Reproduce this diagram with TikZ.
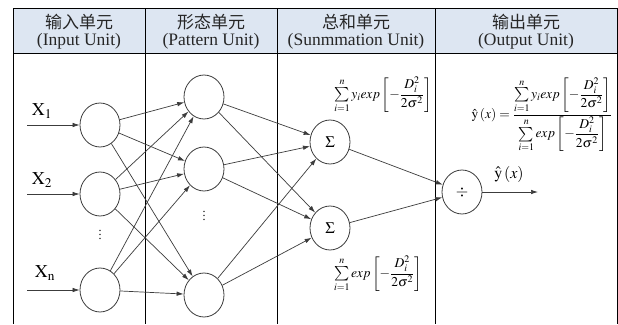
\documentclass[tikz,border=0pt]{standalone}
\usepackage{mathptmx}
\usepackage{exscale}
\usepackage{fontspec}
\setmainfont{Liberation Serif}
\newfontfamily\cjk{Noto Sans CJK SC}
\usetikzlibrary{arrows.meta,shapes.geometric}
\definecolor{hdrblue}{RGB}{221,230,242}
\definecolor{lnc}{RGB}{60,60,60}
\newcommand{\gfrac}{\displaystyle\frac{D_i^2}{2\sigma^2}}
\begin{document}
\begin{tikzpicture}[x=1pt,y=-1pt,
  neuron/.style={draw=lnc, line width=0.8pt, ellipse, minimum width=40pt, minimum height=44pt, inner sep=0pt, font=\fontsize{16}{16}\selectfont},
  conn/.style={draw=lnc, line width=0.7pt, -{Latex[length=7pt,width=4.5pt]}},
  tline/.style={draw=black, line width=1pt},
  cnhead/.style={font=\fontsize{17}{17}\cjk, text=black!85, inner sep=0pt},
  enhead/.style={font=\fontsize{17.5}{18}\selectfont, text=black!85, inner sep=0pt},
  xlab/.style={font=\fontsize{18}{18}\selectfont, inner sep=0pt},
  formula/.style={font=\fontsize{13.5}{14}\selectfont, inner sep=0pt},
  dotsty/.style={font=\fontsize{12}{12}\selectfont, inner sep=0pt}
]
\useasboundingbox (0,0) rectangle (618,324);
\fill[white] (0,0) rectangle (618,324);
% header
\fill[hdrblue] (13,8) rectangle (617,53);
\draw[tline] (13,8) -- (617,8);
\draw[tline] (13,53) -- (617,53);
\foreach \xx in {13,145,277,435,617} { \draw[tline] (\xx,8) -- (\xx,324); }
\node[cnhead] (h1a) at (79,22) {输入单元};
\node[enhead] (h1b) at (79,41) {(Input Unit)};
\node[cnhead] (h2a) at (211,22) {形态单元};
\node[enhead] (h2b) at (211,41) {(Pattern Unit)};
\node[cnhead] (h3a) at (356,22) {总和单元};
\node[enhead] (h3b) at (356,41) {(Sunmmation Unit)};
\node[cnhead] (h4a) at (526,22) {输出单元};
\node[enhead] (h4b) at (526,41) {(Output Unit)};
% input nodes
\node[neuron] (i1) at (100,125) {};
\node[neuron] (i2) at (100,194) {};
\node[neuron] (i3) at (100,290) {};
\node[dotsty] (d1) at (100,232) {$\vdots$};
% pattern nodes
\node[neuron] (p1) at (204,97) {};
\node[neuron] (p2) at (204,169) {};
\node[neuron] (p3) at (204,295) {};
\node[dotsty] (d2) at (204,213) {$\vdots$};
% summation nodes
\node[neuron] (s1) at (330,142) {$\Sigma$};
\node[neuron] (s2) at (330,228) {$\Sigma$};
% output node
\node[neuron] (o) at (462,192) {$\div$};
% input arrows
\coordinate (a1) at (27,125);
\coordinate (a2) at (27,194);
\coordinate (a3) at (27,290);
\draw[conn] (a1) -- (i1.west);
\draw[conn] (a2) -- (i2.west);
\draw[conn] (a3) -- (i3.west);
\node[xlab] (x1) at (42,111) {$\mathrm{X}_{\mathrm{1}}$};
\node[xlab] (x2) at (42,180) {$\mathrm{X}_{\mathrm{2}}$};
\node[xlab] (x3) at (45,273) {$\mathrm{X}_{\mathrm{n}}$};
% input -> pattern
\foreach \a in {i1,i2,i3} { \foreach \b in {p1,p2,p3} { \draw[conn] (\a) -- (\b); } }
% pattern -> summation
\foreach \a in {p1,p2,p3} { \foreach \b in {s1,s2} { \draw[conn] (\a) -- (\b); } }
% summation -> output
\draw[conn] (s1) -- (o);
\draw[conn] (s2) -- (o);
\coordinate (oe) at (538,192);
\draw[conn] (o.east) -- (oe);
\node[font=\fontsize{16}{16}\selectfont, inner sep=0pt] (yl) at (509,174) {$\hat{\mathrm{y}}\left(x\right)$};
% formulas
\node[formula] (f1) at (383,95) {$\sum\limits_{i=1}^{n} y_i exp\left[-\gfrac\right]$};
\node[formula] (f2) at (378,274) {$\sum\limits_{i=1}^{n} exp\left[-\gfrac\right]$};
\node[formula] (f3) at (542,115) {$\hat{\mathrm{y}}\left(x\right)=\displaystyle\frac{\textstyle\sum\limits_{i=1}^{n} y_i exp\left[-\gfrac\right]}{\textstyle\sum\limits_{i=1}^{n} exp\left[-\gfrac\right]}$};
\end{tikzpicture}
\end{document}
